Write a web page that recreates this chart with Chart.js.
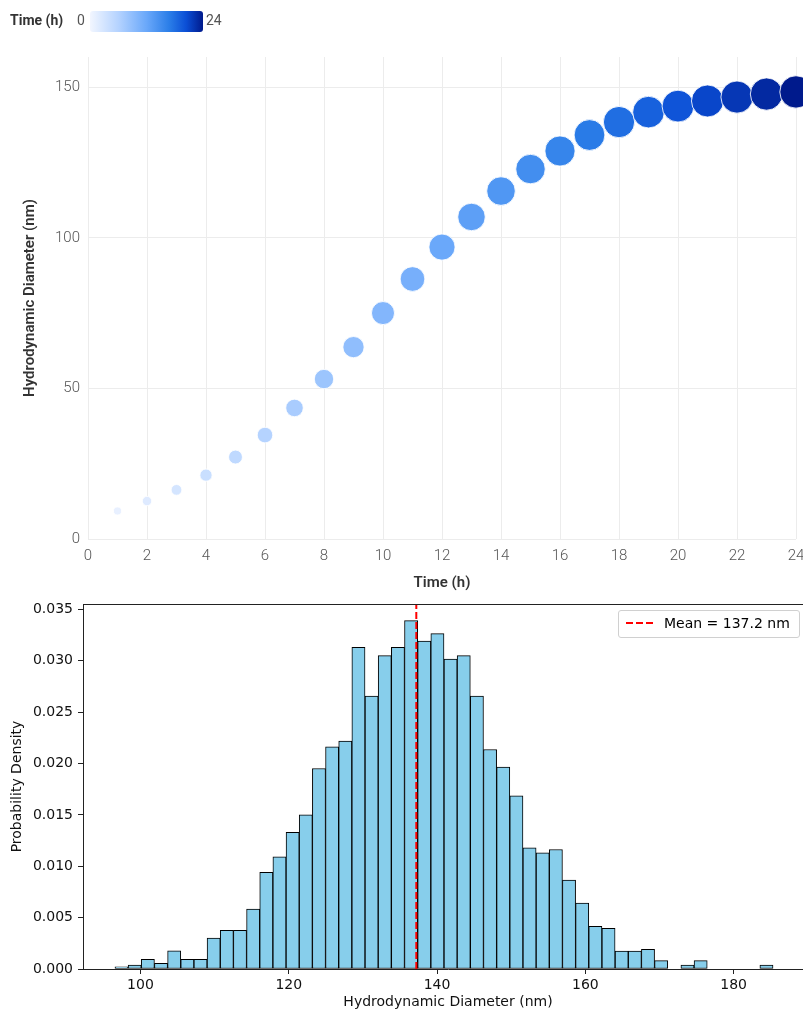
<!DOCTYPE html>
<html>
<head>
<meta charset="utf-8">
<script src="https://cdn.jsdelivr.net/npm/chart.js@4.4.1/dist/chart.umd.min.js"></script>
<style>
  html, body { margin: 0; padding: 0; background: #fff; }
  body { width: 803px; height: 1014px; overflow: hidden; position: relative; }
  #cbar { position: absolute; left: 0; top: 0; height: 42px; width: 260px; font-family: Roboto, "Open Sans", sans-serif; }
  #cbar .ttl { position: absolute; left: 10px; top: 12px; font-size: 14px; font-weight: 700; color: #333; }
  #cbar .lo { position: absolute; left: 77px; top: 12px; font-size: 14px; color: #555; }
  #cbar .hi { position: absolute; left: 206px; top: 12px; font-size: 14px; color: #555; }
  #cbar .grad { position: absolute; left: 90px; top: 11px; width: 113px; height: 21px; border-radius: 3px; }
  #top { position: absolute; left: 0; top: 0; width: 803px; height: 595px; }
  #bot { position: absolute; left: 0; top: 595px; width: 830px; height: 419px; }
  #leg { position: absolute; left: 618px; top: 610px; width: 180px; height: 26px; border: 1px solid #d0d0d0; border-radius: 3px; background: rgba(255,255,255,0.85); font-family: "DejaVu Sans", sans-serif; font-size: 14px; color: #000; }
  #leg svg { position: absolute; left: 6px; top: 7px; }
  #leg span { position: absolute; left: 45px; top: 4px; white-space: nowrap; }
</style>
</head>
<body>
<div id="top"><canvas id="c1"></canvas></div>
<div id="bot"><canvas id="c2"></canvas></div>
<div id="cbar">
  <div class="ttl">Time (h)</div>
  <div class="lo">0</div>
  <div class="grad" id="grad"></div>
  <div class="hi">24</div>
</div>
<div id="leg">
  <svg width="30" height="10"><line x1="1" y1="5" x2="29" y2="5" stroke="#ff0000" stroke-width="2" stroke-dasharray="7,3"/></svg>
  <span id="legText"></span>
</div>
<script>
// ---------- Data: growth curve ----------
const timeHours = [1,2,3,4,5,6,7,8,9,10,11,12,13,14,15,16,17,18,19,20,21,22,23,24];
const diameterNm = [9.3,12.6,16.3,21.2,27.2,34.5,43.5,53.1,63.7,75.0,86.3,96.9,106.9,115.5,122.8,128.8,134.1,138.4,141.7,143.7,145.4,146.7,147.7,148.4];
const timeTicks = [0,2,4,6,8,10,12,14,16,18,20,22,24];
const diamTicks = [0,50,100,150];

// ---------- Data: histogram ----------
const binStart = 96.56;
const binWidth = 1.775;
const density = [0.00022,0.00039,0.00094,0.00055,0.00178,0.00094,0.00094,0.00301,0.00376,0.00376,
                 0.00583,0.0094,0.01092,0.01329,0.0150,0.01951,0.02161,0.02217,0.0313,0.02657,
                 0.0305,0.0313,0.0339,0.0319,0.03264,0.03017,0.0305,0.02657,0.02136,0.01964,
                 0.01685,0.0118,0.01131,0.01163,0.00865,0.00642,0.00415,0.00395,0.00175,0.00175,
                 0.00191,0.00081,0,0.00039,0.00081,0,0,0,0,0.00039];
const meanNm = 137.2;
const histXTicks = [100,120,140,160,180];
const histYTicks = [0,0.005,0.010,0.015,0.020,0.025,0.030,0.035];

// ---------- colour scale ----------
const stops = [[0,[242,246,255]],[0.25,[181,211,255]],[0.5,[106,168,250]],[0.7,[43,126,232]],[0.85,[11,79,214]],[1,[0,26,140]]];
function scaleColor(f){
  f = Math.max(0, Math.min(1, f));
  for (let i = 1; i < stops.length; i++){
    if (f <= stops[i][0]){
      const a = stops[i-1], b = stops[i];
      const t = (f - a[0]) / (b[0] - a[0]);
      const c = a[1].map((v,k) => Math.round(v + (b[1][k]-v)*t));
      return `rgb(${c[0]},${c[1]},${c[2]})`;
    }
  }
  return 'rgb(0,26,140)';
}
document.getElementById('grad').style.background =
  'linear-gradient(to right,' + stops.map(s => scaleColor(s[0]) + ' ' + (s[0]*100) + '%').join(',') + ')';
document.getElementById('legText').textContent = 'Mean = ' + meanNm.toFixed(1) + ' nm';

Chart.defaults.animation = false;
Chart.defaults.events = [];

// ---------- Top: bubble chart ----------
const tickFontTop = { family: 'Roboto, "Open Sans", sans-serif', size: 15, weight: 300 };
const titleFontTop = { family: 'Roboto, "Open Sans", sans-serif', size: 15, weight: 600 };
new Chart(document.getElementById('c1'), {
  type: 'bubble',
  data: {
    datasets: [{
      data: timeHours.map((t, i) => ({ x: t, y: diameterNm[i] })),
      radius: ctx => 1.33 * Math.sqrt(ctx.raw.y),
      backgroundColor: ctx => scaleColor(ctx.raw.x / 24),
      borderColor: 'rgba(255,255,255,0.85)',
      borderWidth: 1,
      clip: false
    }]
  },
  options: {
    responsive: true,
    maintainAspectRatio: false,
    layout: { autoPadding: false, padding: { top: 57, right: 7, left: 0, bottom: 0 } },
    plugins: { legend: { display: false }, tooltip: { enabled: false } },
    scales: {
      x: {
        type: 'linear', min: 0, max: 24,
        afterBuildTicks: s => { s.ticks = timeTicks.map(v => ({ value: v })); },
        afterFit: s => { s.height = 56; s.paddingLeft = 0; s.paddingRight = 0; },
        grid: { color: '#ececec', lineWidth: 1, drawTicks: false },
        border: { display: false },
        ticks: { color: '#555', font: tickFontTop, padding: 8, maxRotation: 0, autoSkip: false },
        title: { display: true, text: 'Time (h)', color: '#333', font: titleFontTop, padding: { top: 0, bottom: 3 } }
      },
      y: {
        type: 'linear', min: 0, max: 160,
        afterBuildTicks: s => { s.ticks = diamTicks.map(v => ({ value: v })); },
        afterFit: s => { s.width = 88; s.paddingTop = 0; s.paddingBottom = 0; },
        grid: { color: '#ececec', lineWidth: 1, drawTicks: false },
        border: { display: false },
        ticks: { color: '#555', font: tickFontTop, padding: 8 },
        title: { display: true, text: 'Hydrodynamic Diameter (nm)', color: '#333', font: titleFontTop, padding: { top: 21, bottom: 0 } }
      }
    }
  }
});

// ---------- Bottom: histogram ----------
const dv = { family: '"DejaVu Sans", sans-serif', size: 14 };
const topSpine = {
  id: 'topSpine',
  afterDraw(chart){
    const { ctx, chartArea: a } = chart;
    ctx.save();
    ctx.strokeStyle = '#222';
    ctx.lineWidth = 1;
    ctx.beginPath();
    ctx.moveTo(a.left, a.top + 0.5);
    ctx.lineTo(a.right, a.top + 0.5);
    ctx.moveTo(a.right - 0.5, a.top);
    ctx.lineTo(a.right - 0.5, a.bottom);
    ctx.stroke();
    ctx.restore();
  }
};
const yTop = 0.03552;
new Chart(document.getElementById('c2'), {
  type: 'bar',
  data: {
    datasets: [
      {
        type: 'line',
        data: [{ x: meanNm, y: 0 }, { x: meanNm, y: yTop }],
        borderColor: '#ff0000',
        borderWidth: 2,
        borderDash: [7, 3],
        pointRadius: 0,
        order: 0
      },
      {
        type: 'bar',
        data: density.map((d, i) => ({ x: binStart + (i + 0.5) * binWidth, y: d })),
        backgroundColor: '#87ceeb',
        borderColor: '#000',
        borderWidth: 1,
        borderSkipped: false,
        barPercentage: 1,
        categoryPercentage: 1,
        order: 1
      }
    ]
  },
  options: {
    responsive: true,
    maintainAspectRatio: false,
    layout: { autoPadding: false, padding: { top: 9, right: 17, left: 0, bottom: 0 } },
    plugins: { legend: { display: false }, tooltip: { enabled: false } },
    scales: {
      x: {
        type: 'linear', min: 92.25, max: 190.7, offset: false,
        afterBuildTicks: s => { s.ticks = histXTicks.map(v => ({ value: v })); },
        afterFit: s => { s.height = 45; s.paddingLeft = 0; s.paddingRight = 0; },
        grid: { drawOnChartArea: false, drawTicks: true, tickLength: 5, tickColor: '#222', offset: false },
        border: { display: true, color: '#222', width: 1 },
        ticks: { color: '#111', font: dv, padding: 3, maxRotation: 0, autoSkip: false },
        title: { display: true, text: 'Hydrodynamic Diameter (nm)', color: '#111', font: dv, padding: { top: 0, bottom: 3 } }
      },
      y: {
        type: 'linear', min: 0, max: yTop,
        afterBuildTicks: s => { s.ticks = histYTicks.map(v => ({ value: v })); },
        afterFit: s => { s.width = 83; s.paddingTop = 0; s.paddingBottom = 0; },
        grid: { drawOnChartArea: false, drawTicks: true, tickLength: 5, tickColor: '#222' },
        border: { display: true, color: '#222', width: 1 },
        ticks: { color: '#111', font: dv, padding: 5, callback: v => v.toFixed(3) },
        title: { display: true, text: 'Probability Density', color: '#111', font: dv, padding: { top: 9, bottom: 0 } }
      }
    }
  },
  plugins: [topSpine]
});
</script>
</body>
</html>
